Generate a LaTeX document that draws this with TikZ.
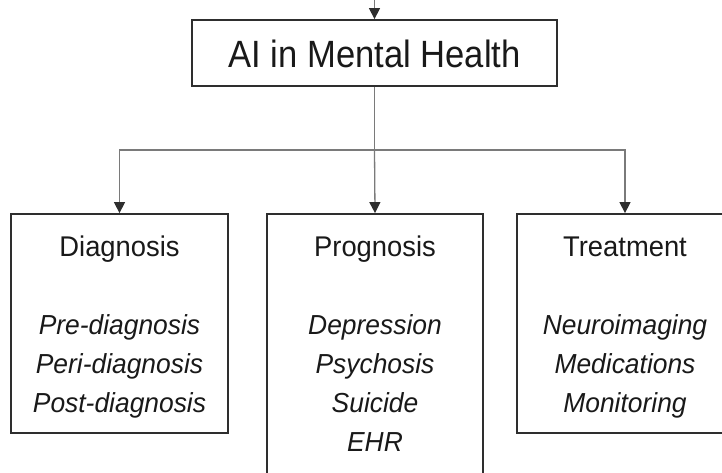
\documentclass[tikz,border=0pt]{standalone}
\usepackage{fontspec}
\setmainfont{Liberation Sans}
\newfontfamily\titlefont{Liberation Sans}[FakeStretch=0.91]
\newfontfamily\bodyfont{Liberation Sans}[FakeStretch=0.96]
\usetikzlibrary{arrows.meta}
\definecolor{boxline}{HTML}{2E2E2E}
\definecolor{connline}{HTML}{7A7A7A}
\tikzset{
  box/.style={draw=boxline, line width=1.8pt, fill=white, inner sep=0pt},
  conn/.style={draw=connline, line width=1.3pt},
  arr/.style={conn, -{Triangle[length=11pt,width=11pt,color=boxline,fill=boxline]}},
  head/.style={anchor=base, inner sep=0pt, font=\bodyfont\fontsize{28.5}{30}\selectfont, text=black!90},
  item/.style={anchor=base, inner sep=0pt, font=\bodyfont\fontsize{27.5}{30}\selectfont\itshape, text=black!90},
}
\begin{document}
\begin{tikzpicture}[x=1pt,y=-1pt]
\useasboundingbox (0,0) rectangle (722,472);
% boxes
\node[box, minimum width=365pt, minimum height=66pt] (top) at (374.5,53) {};
\node[box, minimum width=217pt, minimum height=219pt] (diag) at (119.5,323.5) {};
\node[box, minimum width=216pt, minimum height=270pt] (prog) at (375,349) {};
\node[box, minimum width=216pt, minimum height=219pt] (treat) at (625,323.5) {};
% texts
\node[anchor=base, inner sep=0pt, font=\titlefont\fontsize{38}{40}\selectfont, text=black!90] (title) at (374.5,67) {AI in Mental Health};
\node[head] (h1) at (119.5,256) {Diagnosis};
\node[item] (d1) at (119.5,334) {Pre-diagnosis};
\node[item] (d2) at (119.5,373) {Peri-diagnosis};
\node[item] (d3) at (119.5,412) {Post-diagnosis};
\node[head] (h2) at (375,256) {Prognosis};
\node[item] (p1) at (375,334) {Depression};
\node[item] (p2) at (375,373) {Psychosis};
\node[item] (p3) at (375,412) {Suicide};
\node[item] (p4) at (375,451) {EHR};
\node[head] (h3) at (625,256) {Treatment};
\node[item] (t1) at (625,334) {Neuroimaging};
\node[item] (t2) at (625,373) {Medications};
\node[item] (t3) at (625,412) {Monitoring};
% connectors
\coordinate (in) at (374.5,0);
\coordinate (hub) at (374.5,150);
\draw[arr] (in) -- (top.north);
\draw[conn] (top.south) -- (hub);
\draw[arr] (hub) -| (diag.north);
\draw[arr] (hub) -- (prog.north);
\draw[arr] (hub) -| (treat.north);
\end{tikzpicture}
\end{document}
